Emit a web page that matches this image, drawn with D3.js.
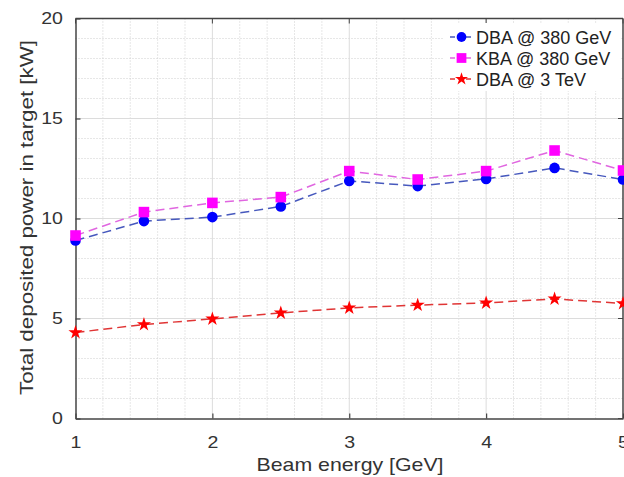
<!DOCTYPE html>
<html><head><meta charset="utf-8">
<script src="https://cdn.jsdelivr.net/npm/d3@7"></script>
<style>body{margin:0;background:#fff;}svg{display:block;font-family:"Liberation Sans",Arial,sans-serif;}</style>
</head><body><svg id="c" width="624" height="477"></svg>
<script>
const energies = [1, 1.5, 2, 2.5, 3, 3.5, 4, 4.5, 5];
const dba380 = [8.9, 9.87, 10.07, 10.6, 11.88, 11.62, 11.98, 12.53, 11.95];
const kba380 = [9.15, 10.32, 10.78, 11.07, 12.37, 11.95, 12.37, 13.4, 12.4];
const dba3tev = [4.3, 4.7, 4.98, 5.28, 5.53, 5.67, 5.78, 5.98, 5.75];
const xTicks = [1, 2, 3, 4, 5];
const yTicks = [0, 5, 10, 15, 20];
const seriesNames = ["DBA @ 380 GeV", "KBA @ 380 GeV", "DBA @ 3 TeV"];

const svg = d3.select("#c");
const L = 75.5, R = 623, T = 18.5, B = 418.5;
const x = d3.scaleLinear().domain([1, 5]).range([L, R]);
const y = d3.scaleLinear().domain([0, 20]).range([B, T]);

// minor grid
const g = svg.append("g");
g.selectAll(".mx").data(d3.range(1, 5.001, 0.2).filter(v => Math.abs(v - Math.round(v)) > 1e-6))
  .join("line").attr("x1", d => x(d)).attr("x2", d => x(d)).attr("y1", T).attr("y2", B)
  .attr("stroke", "#cfcfcf").attr("stroke-width", 1).attr("stroke-dasharray", "1,2");
g.selectAll(".my").data(d3.range(1, 20).filter(v => v % 5 !== 0))
  .join("line").attr("x1", L).attr("x2", R).attr("y1", d => y(d)).attr("y2", d => y(d))
  .attr("stroke", "#cfcfcf").attr("stroke-width", 1).attr("stroke-dasharray", "1,2");
// major grid
g.selectAll(".Mx").data(xTicks.slice(1, -1)).join("line")
  .attr("x1", d => x(d)).attr("x2", d => x(d)).attr("y1", T).attr("y2", B)
  .attr("stroke", "#dcdcdc").attr("stroke-width", 1);
g.selectAll(".My").data(yTicks.slice(1, -1)).join("line")
  .attr("x1", L).attr("x2", R).attr("y1", d => y(d)).attr("y2", d => y(d))
  .attr("stroke", "#dcdcdc").attr("stroke-width", 1);

// axes
const xa = svg.append("g").attr("transform", `translate(0,${B})`)
  .call(d3.axisBottom(x).tickValues(xTicks).tickFormat(d3.format("d")).tickSizeInner(-5).tickSizeOuter(0).tickPadding(17));
const ya = svg.append("g").attr("transform", `translate(${L},0)`)
  .call(d3.axisLeft(y).tickValues(yTicks).tickFormat(d3.format("d")).tickSizeInner(-5).tickSizeOuter(0).tickPadding(11));
[xa, ya].forEach(a => {
  a.select(".domain").attr("stroke", "#444").attr("stroke-width", 1.5);
  a.selectAll(".tick line").attr("stroke", "#444").attr("stroke-width", 1.2);
  a.selectAll("text").attr("font-size", 17).attr("fill", "#333")
    .attr("font-family", "Liberation Sans, Arial, sans-serif").attr("transform", "scale(1.15,1)");
});
// top & right border
svg.append("line").attr("x1", L).attr("x2", R).attr("y1", T).attr("y2", T).attr("stroke", "#444").attr("stroke-width", 1.5);
svg.append("line").attr("x1", R).attr("x2", R).attr("y1", T).attr("y2", B).attr("stroke", "#444").attr("stroke-width", 1.5);
svg.selectAll(".rt").data(yTicks).join("line").attr("x1", R).attr("x2", R - 5).attr("y1", d => y(d)).attr("y2", d => y(d)).attr("stroke", "#444");
svg.selectAll(".tt").data(xTicks).join("line").attr("y1", T).attr("y2", T + 5).attr("x1", d => x(d)).attr("x2", d => x(d)).attr("stroke", "#444");

// series
const series = [
  {vals: dba380, line: "#4658bd", mk: "#0000ff", shape: d3.symbolCircle, size: 88},
  {vals: kba380, line: "#e066e0", mk: "#ff00ff", shape: d3.symbolSquare, size: 112},
  {vals: dba3tev, line: "#e03535", mk: "#ff0000", shape: d3.symbolStar, size: 62}
];
const lineGen = d3.line().x((d, i) => x(energies[i])).y(d => y(d));
series.forEach(s => {
  svg.append("path").attr("d", lineGen(s.vals)).attr("fill", "none")
    .attr("stroke", s.line).attr("stroke-width", 1.5).attr("stroke-dasharray", "9,5");
  svg.selectAll(null).data(s.vals).join("path")
    .attr("transform", (d, i) => `translate(${x(energies[i])},${y(d)})`)
    .attr("d", d3.symbol().type(s.shape).size(s.size)).attr("fill", s.mk);
});

// legend
const lg = svg.append("g");
lg.append("rect").attr("x", 444).attr("y", 23).attr("width", 177).attr("height", 68).attr("fill", "#fff");
series.forEach((s, i) => {
  const yy = 37 + i * 21;
  lg.append("line").attr("x1", 450).attr("x2", 473).attr("y1", yy).attr("y2", yy)
    .attr("stroke", s.line).attr("stroke-width", 1.5).attr("stroke-dasharray", "5,3");
  lg.append("path").attr("transform", `translate(461.5,${yy})`)
    .attr("d", d3.symbol().type(s.shape).size(s.size * 0.85)).attr("fill", s.mk);
  lg.append("text").attr("x", 476).attr("y", yy + 6.5).attr("font-size", 18).attr("fill", "#222").text(seriesNames[i]);
});

// axis labels
svg.append("text").attr("x", 350).attr("y", 471).attr("text-anchor", "middle")
  .attr("font-size", 18.6).attr("textLength", 187).attr("lengthAdjust", "spacingAndGlyphs")
  .attr("fill", "#333").text("Beam energy [GeV]");
svg.append("text").attr("transform", `translate(33,217.5) rotate(-90)`).attr("text-anchor", "middle")
  .attr("font-size", 19).attr("textLength", 355).attr("lengthAdjust", "spacingAndGlyphs")
  .attr("fill", "#333").text("Total deposited power in target [kW]");
</script></body></html>
